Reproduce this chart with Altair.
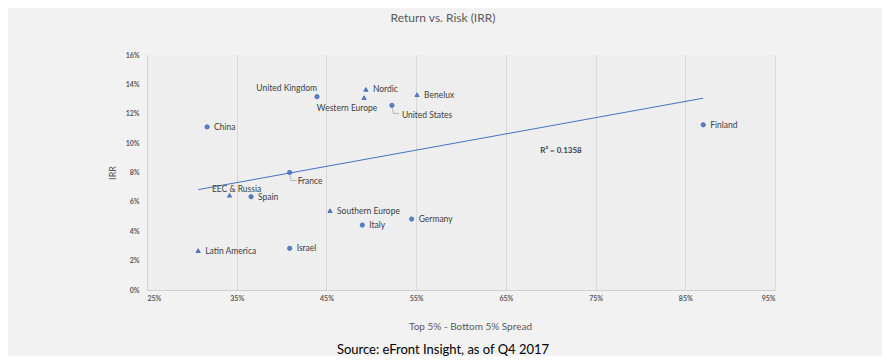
import altair as alt
import pandas as pd

names = ["China", "United Kingdom", "Nordic", "Western Europe", "Benelux",
         "United States", "France", "EEC & Russia", "Spain", "Southern Europe",
         "Italy", "Germany", "Latin America", "Israel", "Finland"]
spread = [31.7, 43.95, 49.4, 49.2, 55.1, 52.3, 40.9, 34.2, 36.6, 45.4,
          49.0, 54.5, 30.7, 40.9, 87.0]
irr = [11.1, 13.16, 13.66, 13.1, 13.3, 12.57, 8.0, 6.45, 6.35, 5.4,
       4.42, 4.83, 2.68, 2.84, 11.25]
kind = ["Country", "Country", "Region", "Region", "Region", "Country", "Country",
        "Region", "Country", "Region", "Country", "Country", "Region", "Country",
        "Country"]

x_ticks = [0.25, 0.35, 0.45, 0.55, 0.65, 0.75, 0.85, 0.95]
y_ticks = [0, 0.02, 0.04, 0.06, 0.08, 0.10, 0.12, 0.14, 0.16]

r2_text = ["R² = 0.1358"]
r2_x = [0.7115]
r2_y = [0.0946]

df = pd.DataFrame({
    "name": names,
    "spread": [v / 100 for v in spread],
    "irr": [v / 100 for v in irr],
    "kind": kind,
})

FONT = "Lato"
BLUE = "#4472c4"
GREY = "#595959"

xenc = alt.X("spread:Q",
             scale=alt.Scale(domain=[0.25, 0.95], nice=False, zero=False),
             axis=alt.Axis(values=x_ticks, format=".0%", grid=True,
                           gridColor="#d9d9d9", domainColor="#d0d0d0",
                           ticks=False, labelFontSize=7, labelFontWeight="bold",
                           labelColor=GREY, labelPadding=4, labelFont=FONT,
                           labelOverlap=False,
                           title="Top 5% - Bottom 5% Spread", titleFontSize=10,
                           titleFontWeight="normal", titleColor=GREY,
                           titleFont=FONT, titlePadding=20, titleX=323))
yenc = alt.Y("irr:Q",
             scale=alt.Scale(domain=[0, 0.16], nice=False),
             axis=alt.Axis(values=y_ticks, format=".0%", grid=False,
                           domainColor="#d0d0d0", ticks=False,
                           labelFontSize=7, labelFontWeight="bold",
                           labelColor=GREY, labelPadding=8, labelFont=FONT,
                           labelOverlap=False, labelBound=False,
                           title="IRR", titleFontSize=9, titleFontWeight="normal",
                           titleColor=GREY, titleFont=FONT, titlePadding=8))

base = alt.Chart(df)

trend = base.transform_regression("spread", "irr").mark_line(
    color=BLUE, strokeWidth=1)

points = base.mark_point(filled=True, opacity=1, size=18, stroke="#3a63ad",
                         strokeWidth=0.8).encode(
    shape=alt.Shape("kind:N",
                    scale=alt.Scale(domain=["Country", "Region"],
                                    range=["circle", "triangle-up"]),
                    legend=None),
    color=alt.value("#5b80c8"),
)


def labels(sel, **kw):
    return base.transform_filter(
        alt.FieldOneOfPredicate(field="name", oneOf=sel)
    ).mark_text(font=FONT, fontSize=8.5, color="#404040", baseline="middle",
                **kw).encode(text="name:N")


right = ["China", "Nordic", "Benelux", "Spain", "Southern Europe", "Italy",
         "Germany", "Latin America", "Israel", "Finland"]
lab_right = labels(right, align="left", dx=7)
lab_uk = labels(["United Kingdom"], align="right", dx=0, dy=-9)
lab_we = labels(["Western Europe"], align="center", dx=-17, dy=10)
lab_us = labels(["United States"], align="left", dx=10, dy=10)
lab_fr = labels(["France"], align="left", dx=8, dy=8)
lab_eec = labels(["EEC & Russia"], align="center", dx=7, dy=-6)

leader_sel = alt.FieldOneOfPredicate(field="name", oneOf=["France", "United States"])
lead_v = base.transform_filter(leader_sel).mark_rule(
    color="#a6a6a6", strokeWidth=0.8, xOffset=0.5, x2Offset=1.5,
    yOffset=3, y2Offset=8).encode(x2="spread:Q", y2="irr:Q")
lead_h = base.transform_filter(leader_sel).mark_rule(
    color="#a6a6a6", strokeWidth=0.8, xOffset=1.5, x2Offset=7,
    yOffset=8, y2Offset=8).encode(x2="spread:Q", y2="irr:Q")

r2 = alt.Chart(pd.DataFrame({"t": r2_text, "spread": r2_x, "irr": r2_y})).mark_text(
    font=FONT, fontSize=8, fontWeight="bold", color="#404040"
).encode(text="t:N")

chart = alt.layer(trend, points, lead_v, lead_h, lab_right, lab_uk, lab_we,
                  lab_us, lab_fr, lab_eec, r2).encode(
    x=xenc, y=yenc
)

source = alt.Chart(pd.DataFrame({"t": ["Source: eFront Insight, as of Q4 2017"]})).mark_text(
    font=FONT, fontSize=13, color="#000000", align="center", baseline="middle"
).encode(x=alt.value(296), y=alt.value(295), text="t:N")

chart = alt.layer(chart, source).properties(
    width=628, height=235,
    autosize=alt.AutoSizeParams(type="none"),
    padding={"left": 139, "top": 47, "right": 107, "bottom": 66},
    title=alt.TitleParams("Return vs. Risk (IRR)", fontSize=12, font=FONT,
                          fontWeight="normal", color=GREY, offset=26, dx=-18,
                          anchor="middle"),
    background="#f2f2f2",
).configure_view(fill="#eeeeee", stroke=None).configure_axis(labelOverlap=False)

chart.save("out.html", embed_options={"renderer": "svg", "actions": False})
